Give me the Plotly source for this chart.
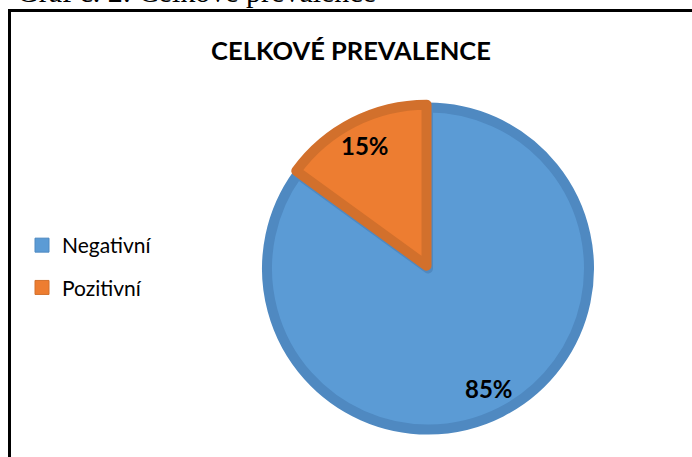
import math
import plotly.graph_objects as go

# ---- data ----
labels = ["Negativní", "Pozitivní"]
values = [85, 15]
fill_colors = ["#5B9BD5", "#ED7D31"]
edge_colors = ["#4F89C1", "#D2702C"]
pulls = [0, 0.02]
title_text = "CELKOVÉ PREVALENCE"
caption_text = "Graf č. 2: Celkové prevalence"

# ---- layout geometry ----
W, H = 692, 457
cx, cy = 428, 268.5          # pie centre, px from left / top
R = 161                      # pie radius, px
line_w = 10
maxpull = max(pulls)
half = R * (1 + maxpull)
dom_x = [(cx - half) / W, (cx + half) / W]
dom_y = [(H - cy - half) / H, (H - cy + half) / H]

fig = go.Figure()

fig.add_trace(go.Pie(
    labels=labels, values=values, sort=False, direction="clockwise", rotation=0,
    pull=pulls, textinfo="none", showlegend=False, hoverinfo="label+percent",
    marker=dict(colors=fill_colors, line=dict(color=edge_colors, width=line_w)),
    domain=dict(x=dom_x, y=dom_y),
))

# legend entries (one group per category to control spacing)
for lab, col, edge in zip(labels, fill_colors, edge_colors):
    fig.add_trace(go.Scatter(
        x=[None], y=[None], mode="markers", name=lab, legendgroup=lab,
        marker=dict(symbol="square", size=14, color=col, line=dict(color=edge, width=1)),
        showlegend=True, hoverinfo="skip",
    ))

# data labels placed along each slice's bisector
total = sum(values)
annotations = []
cum = 0
for v, p in zip(values, pulls):
    frac = v / total
    mid = math.radians((cum + frac / 2) * 360)
    r = 0.84 * R + p * R
    xp = cx + r * math.sin(mid)
    yp = cy - r * math.cos(mid)
    annotations.append(dict(
        x=xp / W, y=1 - yp / H, xref="paper", yref="paper", showarrow=False,
        text=f"{round(100 * frac)}%", xanchor="center", yanchor="middle",
        font=dict(family="Lato", size=24, color="#000000", weight="bold"),
    ))
    cum += frac

# clipped document caption above the chart frame
annotations.append(dict(
    x=15 / W, y=1 + 9 / H, xref="paper", yref="paper", showarrow=False,
    text=caption_text, xanchor="left", yanchor="middle",
    font=dict(family="Liberation Serif", size=30, color="#000000"),
))

fig.update_layout(
    width=W, height=H,
    margin=dict(l=0, r=0, t=0, b=0),
    paper_bgcolor="white", plot_bgcolor="white",
    title=dict(text=title_text, x=351 / W, xanchor="center", y=1 - 51 / H, yanchor="middle",
               font=dict(family="Lato", size=25.5, color="#000000", weight="bold")),
    xaxis=dict(visible=False), yaxis=dict(visible=False),
    legend=dict(x=22 / W, xanchor="left", y=1 - 225 / H, yanchor="top",
                font=dict(family="Lato", size=21, color="#000000"),
                tracegroupgap=12, bgcolor="rgba(0,0,0,0)"),
    annotations=annotations,
    shapes=[dict(type="rect", xref="paper", yref="paper",
                 x0=9.5 / W, x1=1.1, y0=-0.1, y1=1 - 10.5 / H,
                 line=dict(color="#000000", width=3), layer="above")],
)

fig.write_html("out.html")
